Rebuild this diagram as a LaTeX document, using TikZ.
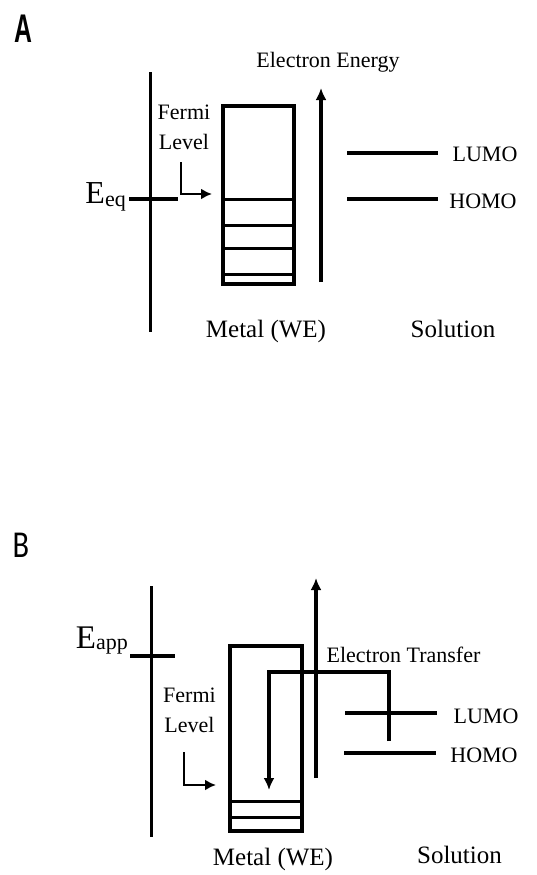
\documentclass[tikz,border=0pt]{standalone}
\usepackage{fontspec}
\setmainfont{Liberation Serif}
\newfontfamily\tagfontA{Liberation Sans}
\newfontfamily\tagfontB{Carlito}
\usetikzlibrary{arrows.meta,positioning}
\tikzset{
  lbl/.style={inner sep=0pt,font=\fontsize{22}{30}\selectfont},
  biglbl/.style={inner sep=0pt,font=\fontsize{25}{25}\selectfont},
  metalbox/.style={draw,line width=4pt,inner sep=0pt},
  level/.style={line width=3pt},
  orbital/.style={line width=4.5pt},
  electrode/.style={line width=3pt},
  potline/.style={line width=4pt},
  ferminote/.style={line width=2.5pt,-{Latex[length=11pt,width=11pt]}},
  energyaxis/.style={line width=4pt,->},
  transfer/.style={line width=3.8pt,->}
}

\begin{document}
\begin{tikzpicture}[x=1pt,y=-1pt,>={Latex[length=12pt,width=11pt]}]
  \useasboundingbox (0,0) rectangle (536,875);

  % A: equilibrium
  \node[inner sep=0pt,xscale=0.62,font=\tagfontA\bfseries\fontsize{40}{40}\selectfont] (tagA) at (23,28.5) {A};
  \coordinate (elA0) at (150,72);
  \coordinate (elA1) at (150,332);
  \draw[electrode] (elA0) -- (elA1);
  \node[lbl,anchor=base east] (eqA) at (126,203) {\fontsize{32}{32}\selectfont E\raisebox{-3pt}{\fontsize{22}{22}\selectfont eq}};
  \coordinate (potA0) at (129,199);
  \coordinate (potA1) at (178,199);
  \draw[potline] (potA0) -- (potA1);
  \node[metalbox,minimum width=71pt,minimum height=178pt] (metalA) at (258.5,195) {};
  \foreach \lev in {199,248,274}
    \draw[level] (metalA.west |- 0,\lev) -- (metalA.east |- 0,\lev);
  \draw[level] ([xshift=3pt]metalA.west |- 0,225) -- (metalA.east |- 0,225);
  \node[lbl,align=center] (fermiA) at (184,127.5) {Fermi\\Level};
  \coordinate (fA0) at (181,162);
  \coordinate (fA1) at (212,194);
  \draw[ferminote] (fA0) |- (fA1);
  \coordinate (enA0) at (321,282);
  \coordinate (enA1) at (321,88);
  \draw[energyaxis] (enA0) -- (enA1);
  \node[lbl,anchor=base] (energyA) at (328,67) {Electron Energy};
  \coordinate (lumoA0) at (347,153);
  \coordinate (lumoA1) at (438,153);
  \coordinate (homoA0) at (347,199);
  \coordinate (homoA1) at (438,199);
  \draw[orbital] (lumoA0) -- (lumoA1);
  \draw[orbital] (homoA0) -- (homoA1);
  \node[lbl,anchor=base] (lumoTA) at (485,161) {LUMO};
  \node[lbl,anchor=base] (homoTA) at (483,208) {HOMO};
  \node[biglbl,anchor=base] (metTA) at (266,337) {Metal (WE)};
  \node[biglbl,anchor=base] (solTA) at (453,337) {Solution};

  % B: applied potential
  \node[inner sep=0pt,xscale=0.8,font=\tagfontB\fontsize{38}{38}\selectfont] (tagB) at (21,545) {B};
  \coordinate (elB0) at (151,586);
  \coordinate (elB1) at (151,837);
  \draw[electrode] (elB0) -- (elB1);
  \node[lbl,anchor=base east] (appB) at (128,648) {\fontsize{33}{33}\selectfont E\raisebox{-1pt}{\fontsize{22}{22}\selectfont app}};
  \coordinate (potB0) at (130,656);
  \coordinate (potB1) at (175,656);
  \draw[potline] (potB0) -- (potB1);
  \node[metalbox,minimum width=72pt,minimum height=185pt] (metalB) at (266,738.5) {};
  \foreach \lev in {801,817}
    \draw[level] (metalB.west |- 0,\lev) -- (metalB.east |- 0,\lev);
  \node[lbl,align=center] (fermiB) at (189.5,710.5) {Fermi\\Level};
  \coordinate (fB0) at (184,752);
  \coordinate (fB1) at (216,785);
  \draw[ferminote] (fB0) |- (fB1);
  \coordinate (enB0) at (316,778);
  \coordinate (enB1) at (316,578);
  \draw[energyaxis] (enB0) -- (enB1);
  \coordinate (lumoB0) at (345,713);
  \coordinate (lumoB1) at (437,713);
  \coordinate (homoB0) at (344,753);
  \coordinate (homoB1) at (436,753);
  \draw[orbital] (lumoB0) -- (lumoB1);
  \draw[orbital] (homoB0) -- (homoB1);
  \coordinate (etB0) at (389,741);
  \coordinate (etB1) at (389,672);
  \coordinate (etB2) at (269,790);
  \draw[transfer] (etB0) -- (etB1) -| (etB2);
  \node[lbl,anchor=base] (transB) at (403.5,662) {Electron Transfer};
  \node[lbl,anchor=base] (lumoTB) at (486,723) {LUMO};
  \node[lbl,anchor=base] (homoTB) at (484,762) {HOMO};
  \node[biglbl,anchor=base] (metTB) at (273,865) {Metal (WE)};
  \node[biglbl,anchor=base] (solTB) at (459.5,863) {Solution};
\end{tikzpicture}
\end{document}
